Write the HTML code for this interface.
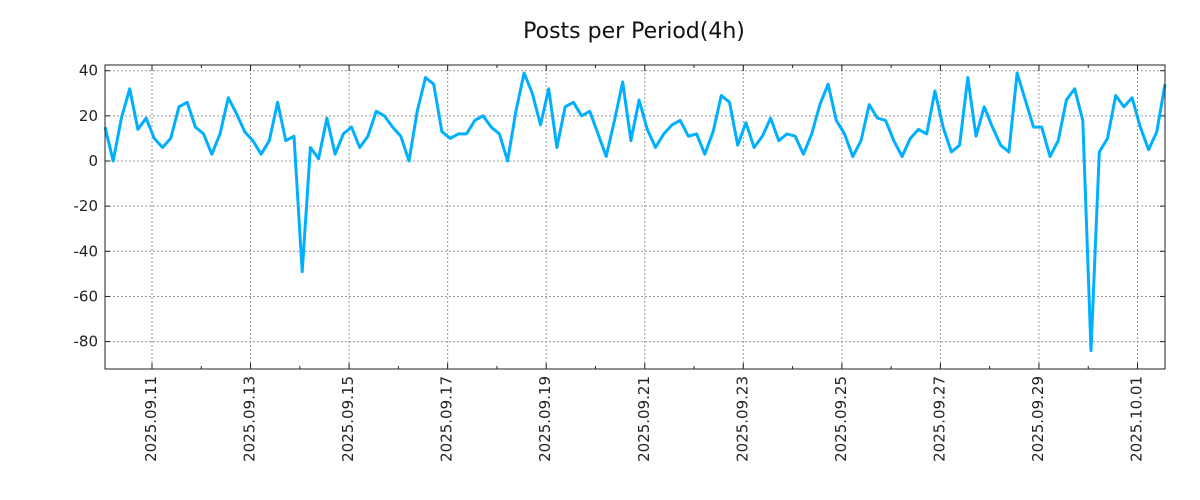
<!DOCTYPE html>
<html><head><meta charset="utf-8"><style>
html,body{margin:0;padding:0;background:#fff;}
svg{display:block;font-family:"DejaVu Sans","Liberation Sans",sans-serif;}
</style></head><body>
<svg id="s" width="1200" height="500" viewBox="0 0 1200 500" xmlns="http://www.w3.org/2000/svg">
<rect width="1200" height="500" fill="#fff"/>
<text x="634" y="38" font-size="22" text-anchor="middle" fill="#111">Posts per Period(4h)</text>
<g id="grid" stroke="#999" stroke-width="1" stroke-dasharray="2,2"></g>
<g id="ticks" stroke="#222" stroke-width="1"></g>
<g id="labels" font-size="15" fill="#222"></g>
<polyline id="line" fill="none" stroke="#00b0ff" stroke-width="3" stroke-linejoin="round"/>
<rect x="105" y="65" width="1060" height="304" fill="none" stroke="#222" stroke-width="1"/>
</svg>
<script>
const ns="http://www.w3.org/2000/svg";
function el(p,t,a,txt){const e=document.createElementNS(ns,t);for(const k in a)e.setAttribute(k,a[k]);if(txt!==undefined)e.textContent=txt;document.getElementById(p).appendChild(e);}
const Y=v=>161-v*2.2575;
[40,20,0,-20,-40,-60,-80].forEach(v=>{const y=Y(v);
 el("grid","line",{x1:105,x2:1165,y1:y,y2:y});
 el("ticks","line",{x1:105,x2:110,y1:y,y2:y});el("ticks","line",{x1:1160,x2:1165,y1:y,y2:y});
 el("labels","text",{x:98,y:y+5,"text-anchor":"end"},String(v));});
const dates=["2025.09.11","2025.09.13","2025.09.15","2025.09.17","2025.09.19","2025.09.21","2025.09.23","2025.09.25","2025.09.27","2025.09.29","2025.10.01"];
dates.forEach((d,i)=>{const x=152+i*98.55;
 el("grid","line",{x1:x,x2:x,y1:65,y2:369});
 el("ticks","line",{x1:x,x2:x,y1:65,y2:71});el("ticks","line",{x1:x,x2:x,y1:363,y2:369});
 el("labels","text",{x:0,y:0,transform:`translate(${x+4},376) rotate(-90)`,"text-anchor":"end"},d);});
for(let x=152-49.27;x<1165;x+=98.55){if(x>105){el("ticks","line",{x1:x,x2:x,y1:65,y2:68});el("ticks","line",{x1:x,x2:x,y1:366,y2:369});}}
const v=[15,0,19,32,14,19,10,6,10,24,26,15,12,3,12,28,21,13,9,3,9,26,9,11,-49,6,1,19,3,12,15,6,11,22,20,15,11,0,22,37,34,13,10,12,12,18,20,15,12,0,22,39,30,16,32,6,24,26,20,22,12,2,18,35,9,27,14,6,12,16,18,11,12,3,13,29,26,7,17,6,11,19,9,12,11,3,12,25,34,18,12,2,9,25,19,18,9,2,10,14,12,31,15,4,7,37,11,24,15,7,4,39,27,15,15,2,9,27,32,18,-84,4,10,29,24,28,15,5,13,34];
const dx=(1165-105)/(v.length-1);
document.getElementById("line").setAttribute("points",v.map((a,i)=>(105+i*dx).toFixed(1)+","+Y(a).toFixed(1)).join(" "));
</script>
</body></html>
